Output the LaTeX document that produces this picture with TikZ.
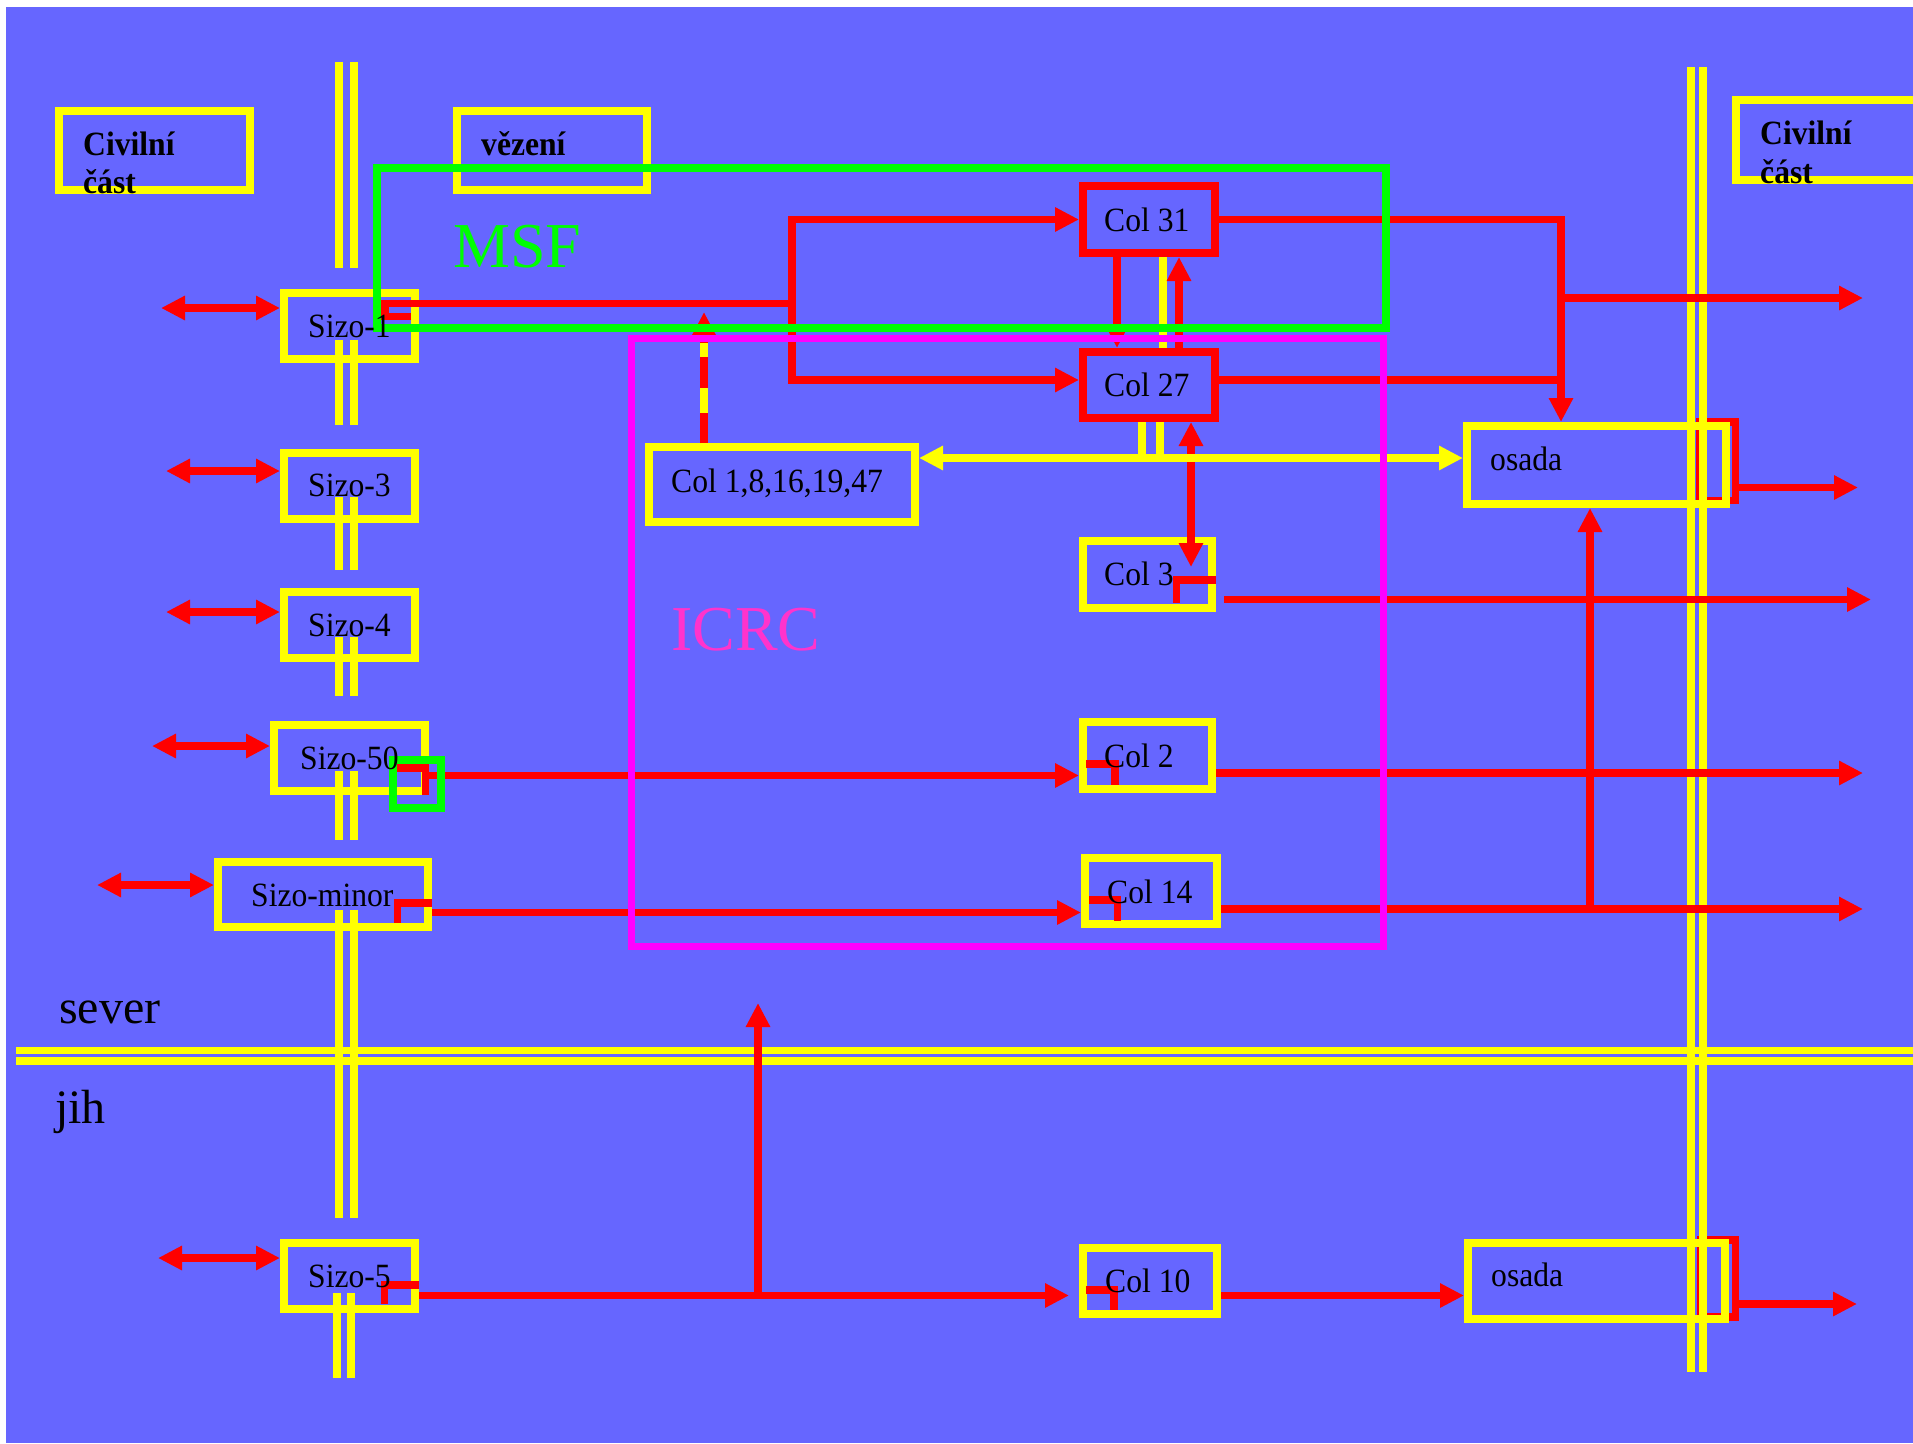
\documentclass[tikz,border=0pt]{standalone}
\usepackage{fontspec}
\setmainfont{Liberation Serif}
\newfontfamily\narrowfont[FakeStretch=0.93]{Liberation Serif}
\usetikzlibrary{arrows.meta,calc}
\definecolor{bgblue}{RGB}{102,102,255}
\definecolor{ylw}{RGB}{255,255,0}
\definecolor{rd}{RGB}{255,0,0}
\definecolor{grn}{RGB}{0,255,0}
\definecolor{mgt}{RGB}{255,0,255}
\definecolor{pinktext}{RGB}{255,51,204}
\tikzset{
  ybox/.style={draw=ylw, line width=8pt, inner sep=0pt},
  rbox/.style={draw=rd, line width=8pt, inner sep=0pt},
  road/.style={draw=ylw, line width=7.5pt},
  rl/.style={draw=rd, line width=7.5pt},
  yl/.style={draw=ylw, line width=7.5pt},
  lab/.style={font=\narrowfont\fontsize{34}{40}\selectfont, inner sep=0pt, anchor=base west, text=black},
  blab/.style={font=\narrowfont\bfseries\fontsize{34}{40}\selectfont, inner sep=0pt, anchor=base west, text=black},
  biglab/.style={font=\fontsize{64}{70}\selectfont, inner sep=0pt, anchor=base west},
  sidelab/.style={font=\fontsize{48}{54}\selectfont, inner sep=0pt, anchor=base west, text=black},
  >={Triangle[length=24pt,width=23pt]}
}
\begin{document}
\begin{tikzpicture}[x=1pt,y=-1pt]
\useasboundingbox (0,0) rectangle (1913,1443);
\fill[white] (0,0) rectangle (1913,1443);
\fill[bgblue] (6,7) rectangle (1913,1443);

% ---------- osada red frames (below roads and yellow boxes) ----------
\draw[rl] (1700,422) rectangle (1735.5,500.5);
\draw[rl] (1701,1240) rectangle (1735.5,1317);

% ---------- roads ----------
\foreach \a/\b in {62/268, 340/425, 497/570, 637/696, 771/840, 910/1218}{
  \draw[road] (339,\a) -- (339,\b);
  \draw[road] (354,\a) -- (354,\b);
}
\draw[road] (337,1293) -- (337,1378);
\draw[road] (351,1293) -- (351,1378);
\draw[road] (16,1050.5) -- (1913,1050.5);
\draw[road] (16,1061) -- (1913,1061);
\draw[road] (1691,67) -- (1691,1372);
\draw[road] (1703,67) -- (1703,1372);

% ---------- named coordinates ----------
\coordinate (j1) at (792,303.5);
\coordinate (x1561) at (1561,0);
\coordinate (x1117) at (1117,0);
\coordinate (x1163) at (1163,0);
\coordinate (x1179) at (1179,0);
\coordinate (x1191) at (1191,0);
\coordinate (x1142) at (1142,0);
\coordinate (x1160) at (1160,0);
\coordinate (x704) at (704,0);
\coordinate (x1590) at (1590,0);
\coordinate (y380) at (0,380);
\coordinate (y458) at (0,458);
\coordinate (y775) at (0,775.5);
\coordinate (y773) at (0,773);
\coordinate (y912) at (0,912.5);
\coordinate (y909) at (0,909);
\coordinate (y1295) at (0,1295.5);
\coordinate (b1) at (1561,298);
\coordinate (e1) at (1863,298);
\coordinate (c3tip) at (1191,567);
\coordinate (dtip) at (704,312);
\coordinate (c3o) at (1224,599.5);
\coordinate (e3) at (1871,599.5);
\coordinate (e2) at (1863,773);
\coordinate (e14) at (1863,909);
\coordinate (s5tip) at (1069,1295.5);
\coordinate (uptip) at (758,1003);
\coordinate (upbase) at (758,1295.5);
\coordinate (eT) at (1858,487.5);
\coordinate (oT) at (1738,487.5);
\coordinate (eB) at (1857,1304);
\coordinate (oB) at (1739,1304);

% ---------- yellow boxes ----------
\node[ybox, minimum width=191pt, minimum height=79pt] (civL) at (154.5,150.5) {};
\node[ybox, minimum width=190pt, minimum height=79pt] (vez) at (552,150.5) {};
\node[ybox, minimum width=194pt, minimum height=80pt] (civR) at (1833,140) {};
\node[ybox, minimum width=131pt, minimum height=66pt] (s1) at (349.5,326) {};
\node[ybox, minimum width=131pt, minimum height=66pt] (s3) at (349.5,486) {};
\node[ybox, minimum width=131pt, minimum height=66pt] (s4) at (349.5,625) {};
\node[ybox, minimum width=151pt, minimum height=66pt] (s50) at (349.5,758) {};
\node[ybox, minimum width=210pt, minimum height=65pt] (smin) at (323,894.5) {};
\node[ybox, minimum width=131pt, minimum height=66pt] (s5) at (349.5,1276) {};
\node[ybox, minimum width=266pt, minimum height=75pt] (c1) at (782,484.5) {};
\node[ybox, minimum width=129pt, minimum height=67pt] (c3) at (1147.5,574.5) {};
\node[ybox, minimum width=129pt, minimum height=67pt] (c2) at (1147.5,755.5) {};
\node[ybox, minimum width=132pt, minimum height=66pt] (c14) at (1151,891) {};
\node[ybox, minimum width=134pt, minimum height=66pt] (c10) at (1150,1281) {};
\node[ybox, minimum width=259pt, minimum height=78pt] (osT) at (1596.5,465) {};
\node[ybox, minimum width=257pt, minimum height=76pt] (osB) at (1596.5,1281) {};

% ---------- red boxes ----------
\node[rbox, minimum width=132pt, minimum height=67pt] (c31) at (1149,219.5) {};
\node[rbox, minimum width=132pt, minimum height=66pt] (c27) at (1149,385) {};

% ---------- red connectors ----------
% Sizo-1 to Col 31 / Col 27
\draw[rl] (411,316.5) -- (385,316.5) -- (385,300);
\draw[rl] (381,303.5) -- (j1);
\draw[rl,->] (j1) |- (c31.west);
\draw[rl,->] (j1) |- (c27.west |- y380);
% Col 31 / Col 27 outputs
\draw[rl,->] (c31.east) -| (osT.north -| x1561);
\draw[rl,->] (b1) -- (e1);
\draw[rl] (c27.east |- y380) -- (x1561 |- y380);
% between Col 31 and Col 27
\draw[rl,->] (c31.south -| x1117) -- (c27.north -| x1117);
\draw[yl] (x1163 |- c31.south) -- (x1163 |- c27.north);
\draw[rl,->] (c27.north -| x1179) -- (c31.south -| x1179);
\draw[rl,<->] (c27.south -| x1191) -- (c3tip);
% yellow links under Col 27 and Col 1 <-> osada
\draw[yl] (c27.south -| x1142) -- (x1142 |- y458);
\draw[yl] (c27.south -| x1160) -- (x1160 |- y458);
\draw[yl,<->] (c1.east |- y458) -- (osT.west |- y458);
% dashed Col 1 arrow
\draw[rl,->] (c1.north -| x704) -- (dtip);
\draw[yl] (704,388) -- (704,413);
\draw[yl] (704,343) -- (704,357);
% Col 3
\draw[rl] (1176.5,603) -- (1176.5,580) -- (1216,580);
\draw[rl,->] (c3o) -- (e3);
% Sizo-50 -> Col 2
\draw[rl] (397,768) -- (425.5,768) -- (425.5,795);
\draw[rl,->] (429,775.5) -- (c2.west |- y775);
\draw[rl] (1086,764) -- (1115,764) -- (1115,785);
\draw[rl,->] (c2.east |- y773) -- (e2);
% Sizo-minor -> Col 14
\draw[rl] (397.5,923) -- (397.5,903) -- (432,903);
\draw[rl,->] (432,912.5) -- (c14.west |- y912);
\draw[rl] (1089,900) -- (1117.5,900) -- (1117.5,921);
\draw[rl,->] (c14.east |- y909) -- (e14);
\draw[rl,->] (x1590 |- y909) -- (osT.south -| x1590);
% Sizo-5 -> Col 10 -> osada
\draw[rl] (384.5,1304) -- (384.5,1285) -- (419,1285);
\draw[rl,->] (s5.east |- y1295) -- (s5tip);
\draw[rl,->] (upbase) -- (uptip);
\draw[rl] (1086,1290) -- (1114,1290) -- (1114,1310);
\draw[rl,->] (c10.east |- y1295) -- (osB.west |- y1295);
% osada outputs
\draw[rl,->] (oT) -- (eT);
\draw[rl,->] (oB) -- (eB);
% left double arrows
\coordinate (a1) at (161,308);
\coordinate (a3) at (166,471);
\coordinate (a4) at (166,612);
\coordinate (a50) at (152,746);
\coordinate (amin) at (97,885);
\coordinate (a5) at (158,1258);
\draw[rl,<->] (a1) -- (a1 -| s1.west);
\draw[rl,<->] (a3) -- (a3 -| s3.west);
\draw[rl,<->] (a4) -- (a4 -| s4.west);
\draw[rl,<->] (a50) -- (a50 -| s50.west);
\draw[rl,<->] (amin) -- (amin -| smin.west);
\draw[rl,<->] (a5) -- (a5 -| s5.west);

% ---------- frames ----------
\node[draw=grn, line width=8pt, inner sep=0pt, minimum width=1009pt, minimum height=160pt] (msf) at (881.5,248) {};
\node[draw=mgt, line width=7pt, inner sep=0pt, minimum width=752pt, minimum height=608pt] (icrc) at (1007,642) {};
\node[draw=grn, line width=8pt, inner sep=0pt, minimum width=48pt, minimum height=48pt] (gsq) at (417,784) {};

% ---------- texts ----------
\node[blab] (civLt1) at (83,155) {Civilní};
\node[blab] (civLt2) at (83,193) {část};
\node[blab] (vezt) at (481,155) {vězení};
\node[blab] (civRt1) at (1760,144) {Civilní};
\node[blab] (civRt2) at (1760,183) {část};
\node[biglab, text=grn] (msft) at (453,267) {MSF};
\node[biglab, text=pinktext] (icrct) at (671,650) {ICRC};
\node[lab] (s1t) at (308,337) {Sizo-1};
\node[lab] (s3t) at (308,496) {Sizo-3};
\node[lab] (s4t) at (308,636) {Sizo-4};
\node[lab] (s50t) at (300,769) {Sizo-50};
\node[lab] (smint) at (251,906) {Sizo-minor};
\node[lab] (s5t) at (308,1287) {Sizo-5};
\node[lab] (c31t) at (1104,231) {Col 31};
\node[lab] (c27t) at (1104,396) {Col 27};
\node[lab] (c1t) at (671,492) {Col 1,8,16,19,47};
\node[lab] (c3t) at (1104,585) {Col 3};
\node[lab] (c2t) at (1104,767) {Col 2};
\node[lab] (c14t) at (1107,903) {Col 14};
\node[lab] (c10t) at (1105,1292) {Col 10};
\node[lab] (osTt) at (1490,470) {osada};
\node[lab] (osBt) at (1491,1286) {osada};
\node[sidelab] (sevt) at (59,1023) {sever};
\node[sidelab] (jiht) at (55,1123) {jih};
\end{tikzpicture}
\end{document}
